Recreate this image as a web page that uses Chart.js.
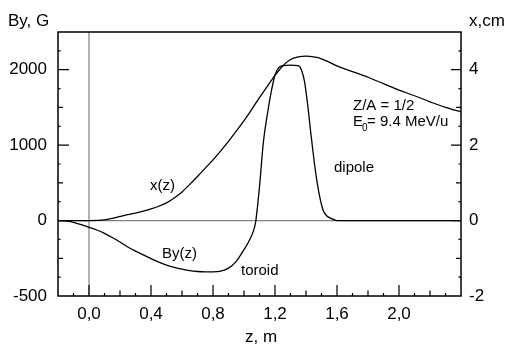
<!DOCTYPE html>
<html>
<head>
<meta charset="utf-8">
<script src="https://cdn.jsdelivr.net/npm/chart.js@4.4.0/dist/chart.umd.min.js"></script>
<style>
  html, body { margin: 0; padding: 0; background: #fff; }
  canvas { display: block; }
</style>
</head>
<body>
<canvas id="fieldChart" width="508" height="348"></canvas>
<script>
// By(z), G  (left axis)
const zField = [-0.2, -0.15, -0.1, -0.05, 0, 0.05, 0.1, 0.15, 0.2, 0.25, 0.3, 0.35, 0.4, 0.45, 0.5, 0.55, 0.6, 0.65, 0.7, 0.75, 0.8, 0.85, 0.9, 0.95, 1.0, 1.03, 1.055, 1.075, 1.1, 1.125, 1.15, 1.175, 1.2, 1.225, 1.25, 1.3, 1.35, 1.37, 1.39, 1.41, 1.43, 1.45, 1.47, 1.49, 1.51, 1.53, 1.56, 1.6, 2.0, 2.4];
const byValues = [0, -5, -25, -55, -90, -125, -170, -225, -285, -350, -405, -455, -505, -550, -590, -620, -645, -665, -675, -680, -680, -670, -630, -540, -385, -280, -170, -20, 450, 1040, 1400, 1700, 1930, 2030, 2055, 2060, 2055, 2000, 1850, 1550, 1180, 830, 530, 300, 140, 70, 30, 0, 0, 0];

// x(z), cm  (right axis)
const zOrbit = [-0.2, 0, 0.1, 0.15, 0.2, 0.25, 0.3, 0.35, 0.4, 0.45, 0.5, 0.55, 0.6, 0.65, 0.7, 0.75, 0.8, 0.85, 0.9, 0.95, 1.0, 1.05, 1.1, 1.15, 1.2, 1.25, 1.3, 1.35, 1.4, 1.45, 1.5, 1.55, 1.6, 1.7, 1.8, 1.9, 2.0, 2.1, 2.2, 2.3, 2.4];
const xValues = [0, 0, 0.02, 0.06, 0.11, 0.16, 0.2, 0.25, 0.31, 0.38, 0.47, 0.6, 0.76, 0.96, 1.17, 1.39, 1.61, 1.85, 2.1, 2.37, 2.65, 2.95, 3.26, 3.56, 3.85, 4.1, 4.27, 4.34, 4.36, 4.34, 4.29, 4.2, 4.1, 3.95, 3.8, 3.63, 3.46, 3.31, 3.15, 3.0, 2.88];

// tick labels as printed in the figure
const zTicks = [0, 0.4, 0.8, 1.2, 1.6, 2.0];
const byTickValues = [-1000, 0, 1000, 2000];
const byTickLabels = ['-500', '0', '1000', '2000'];
const xTickValues = [-2, 0, 2, 4];

const FONT = '"Liberation Sans", Arial, Helvetica, sans-serif';

const toPoints = (xs, ys) => xs.map((x, i) => ({ x, y: ys[i] }));

const framePlugin = {
  id: 'frame',
  beforeDatasetsDraw(chart) {
    const { ctx, chartArea: a, scales } = chart;
    ctx.save();
    ctx.strokeStyle = '#808080';
    ctx.lineWidth = 1.2;
    const x0 = scales.x.getPixelForValue(0);
    const y0 = scales.yB.getPixelForValue(0);
    ctx.beginPath();
    ctx.moveTo(x0, a.top); ctx.lineTo(x0, a.bottom);
    ctx.moveTo(a.left, y0); ctx.lineTo(a.right, y0);
    ctx.stroke();
    ctx.restore();
  },
  afterDraw(chart) {
    const { ctx, chartArea: a, scales } = chart;
    ctx.save();
    ctx.strokeStyle = '#000';
    ctx.lineWidth = 1.5;
    ctx.strokeRect(a.left, a.top, a.right - a.left, a.bottom - a.top);

    ctx.lineWidth = 1.2;
    ctx.beginPath();
    // bottom ticks every 0.1
    for (let i = -1; i <= 23; i++) {
      const px = scales.x.getPixelForValue(i / 10);
      const len = i % 4 === 0 ? 11 : (i % 2 === 0 ? 5.5 : 3);
      ctx.moveTo(px, a.bottom); ctx.lineTo(px, a.bottom - len);
    }
    // left ticks every 250
    for (let v = -750; v <= 2250; v += 250) {
      const py = scales.yB.getPixelForValue(v);
      const len = v % 1000 === 0 ? 11 : (v % 500 === 0 ? 5 : 2.5);
      ctx.moveTo(a.left, py); ctx.lineTo(a.left + len, py);
    }
    // right ticks every 0.5
    for (let i = -3; i <= 9; i++) {
      const v = i / 2;
      const py = scales.yX.getPixelForValue(v);
      const len = i % 4 === 0 ? 10 : (i % 2 === 0 ? 5 : 2.5);
      ctx.moveTo(a.right, py); ctx.lineTo(a.right - len, py);
    }
    ctx.stroke();

    ctx.fillStyle = '#000';
    ctx.textBaseline = 'alphabetic';
    ctx.textAlign = 'left';
    ctx.font = '17px ' + FONT;
    ctx.fillText('By, G', 8, 26);
    ctx.fillText('x,cm', 469, 26);
    ctx.fillText('z, m', 245, 342);

    ctx.font = '15px ' + FONT;
    ctx.fillText('Z/A = 1/2', 353, 110);
    ctx.fillText('E', 353, 126);
    ctx.fillText('= 9.4 MeV/u', 367, 126);
    ctx.font = '10px ' + FONT;
    ctx.fillText('0', 362, 131);
    ctx.font = '15px ' + FONT;
    ctx.fillText('dipole', 334, 172);
    ctx.fillText('x(z)', 150, 190);
    ctx.fillText('By(z)', 162, 258);
    ctx.fillText('toroid', 241, 275);
    ctx.restore();
  }
};

new Chart(document.getElementById('fieldChart'), {
  type: 'line',
  data: {
    datasets: [
      {
        label: 'By(z)',
        data: toPoints(zField, byValues),
        yAxisID: 'yB',
        borderColor: '#000',
        borderWidth: 1.3,
        pointRadius: 0,
        cubicInterpolationMode: 'monotone',
        fill: false
      },
      {
        label: 'x(z)',
        data: toPoints(zOrbit, xValues),
        yAxisID: 'yX',
        borderColor: '#000',
        borderWidth: 1.3,
        pointRadius: 0,
        cubicInterpolationMode: 'monotone',
        fill: false
      }
    ]
  },
  options: {
    responsive: false,
    animation: false,
    layout: { padding: { top: 32, left: 0, right: 0, bottom: 0 } },
    plugins: {
      legend: { display: false },
      tooltip: { enabled: false }
    },
    scales: {
      x: {
        type: 'linear',
        min: -0.2,
        max: 2.4,
        grid: { display: false, drawTicks: false },
        border: { display: false },
        afterFit: (s) => { s.height = 52; },
        afterBuildTicks: (s) => { s.ticks = zTicks.map((value) => ({ value })); },
        ticks: {
          autoSkip: false,
          maxRotation: 0,
          padding: 8,
          color: '#000',
          font: { family: FONT, size: 17 },
          callback: (value) => Number(value).toFixed(1).replace('.', ',')
        }
      },
      yB: {
        type: 'linear',
        position: 'left',
        min: -1000,
        max: 2500,
        grid: { display: false, drawTicks: false },
        border: { display: false },
        afterFit: (s) => { s.width = 58; },
        afterBuildTicks: (s) => { s.ticks = byTickValues.map((value) => ({ value })); },
        ticks: {
          autoSkip: false,
          padding: 11,
          color: '#000',
          font: { family: FONT, size: 17 },
          callback: (value) => byTickLabels[byTickValues.indexOf(value)]
        }
      },
      yX: {
        type: 'linear',
        position: 'right',
        min: -2,
        max: 5,
        grid: { display: false, drawTicks: false },
        border: { display: false },
        afterFit: (s) => { s.width = 47; },
        afterBuildTicks: (s) => { s.ticks = xTickValues.map((value) => ({ value })); },
        ticks: {
          autoSkip: false,
          padding: 8,
          color: '#000',
          font: { family: FONT, size: 17 },
          callback: (value) => String(value)
        }
      }
    }
  },
  plugins: [framePlugin]
});
</script>
</body>
</html>
